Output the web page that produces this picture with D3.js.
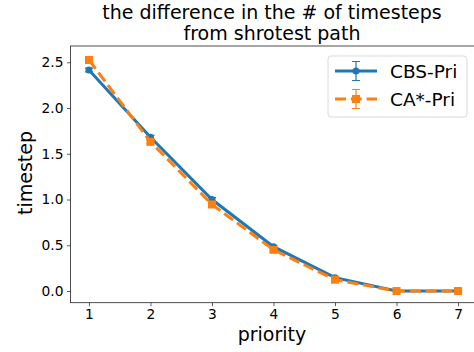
<!DOCTYPE html>
<html>
<head>
<meta charset="utf-8">
<script src="https://cdn.jsdelivr.net/npm/d3@7"></script>
<style>
  body { margin: 0; background: #fff; }
  text { font-family: "DejaVu Sans", sans-serif; fill: #000; }
</style>
</head>
<body>
<div id="chart"></div>
<script>
// chart values
var priorities = [1, 2, 3, 4, 5, 6, 7];
var cbsValues = [2.415, 1.68, 1.00, 0.485, 0.146, 0.0, 0.0];
var cbsErrors = [0.02, 0.02, 0.02, 0.015, 0.01, 0.0, 0.0];
var caValues = [2.525, 1.63, 0.946, 0.45, 0.124, 0.0, 0.0];
var caErrors = [0.025, 0.02, 0.03, 0.02, 0.015, 0.0, 0.0];
var yTicks = [0.0, 0.5, 1.0, 1.5, 2.0, 2.5];
var seriesNames = ["CBS-Pri", "CA*-Pri"];

var width = 474;
var height = 352;
var plot = { left: 70.5, right: 476.5, top: 46, bottom: 302.7 };

var svg = d3.select("#chart")
    .append("svg")
    .attr("width", width)
    .attr("height", height)

/*
    matplotlib style scales: 5% margin around data extent
*/
var x = d3.scaleLinear()
    .domain([0.7, 7.3])
    .range([plot.left, plot.right])

var lo = d3.min(cbsValues.map(function (v, i) { return v - cbsErrors[i] }).concat(caValues.map(function (v, i) { return v - caErrors[i] })))
var hi = d3.max(cbsValues.map(function (v, i) { return v + cbsErrors[i] }).concat(caValues.map(function (v, i) { return v + caErrors[i] })))
var pad = (hi - lo) * 0.05
var y = d3.scaleLinear()
    .domain([lo - pad, hi + pad])
    .range([plot.bottom, plot.top])

// axes
var xAxis = svg.append("g")
    .attr("transform", "translate(0," + plot.bottom + ")")
    .call(d3.axisBottom(x).tickValues(priorities).tickFormat(d3.format("d")).tickSizeOuter(0).tickSize(3.5).tickPadding(3.5))
var yAxis = svg.append("g")
    .attr("transform", "translate(" + plot.left + ",0)")
    .call(d3.axisLeft(y).tickValues(yTicks).tickFormat(d3.format(".1f")).tickSizeOuter(0).tickSize(3.5).tickPadding(3.5))

svg.selectAll(".domain").remove()
svg.selectAll(".tick line").attr("stroke", "#333").attr("stroke-width", 0.8)
svg.selectAll(".tick text").style("font-size", "13.8px").attr("fill", "#000")

// spines
svg.append("rect")
    .attr("x", plot.left)
    .attr("y", plot.top)
    .attr("width", plot.right - plot.left)
    .attr("height", plot.bottom - plot.top)
    .attr("fill", "none")
    .attr("stroke", "#222")
    .attr("stroke-width", 0.8)

// title and labels
svg.append("text")
    .attr("x", 272)
    .attr("y", 18.5)
    .attr("text-anchor", "middle")
    .style("font-size", "19px")
    .text("the difference in the # of timesteps")
svg.append("text")
    .attr("x", 272)
    .attr("y", 40)
    .attr("text-anchor", "middle")
    .style("font-size", "19px")
    .text("from shrotest path")
svg.append("text")
    .attr("x", 272)
    .attr("y", 341)
    .attr("text-anchor", "middle")
    .style("font-size", "19px")
    .text("priority")
svg.append("text")
    .attr("transform", "translate(32,173) rotate(-90)")
    .attr("text-anchor", "middle")
    .style("font-size", "19px")
    .text("timestep")

var series = [
    { name: seriesNames[0], values: cbsValues, errors: cbsErrors, color: "#1f77b4", dash: null, marker: "circle" },
    { name: seriesNames[1], values: caValues, errors: caErrors, color: "#ff7f0e", dash: "11,4.8", marker: "square" }
]

var line = d3.line()
    .x(function (d) { return x(d.p) })
    .y(function (d) { return y(d.v) })

series.forEach(function (s) {
    var pts = priorities.map(function (p, i) { return { p: p, v: s.values[i], e: s.errors[i] } })
    var g = svg.append("g")

    // error bars
    g.selectAll(".err")
        .data(pts)
        .enter().append("path")
        .attr("d", function (d) {
            var cx = x(d.p), y1 = y(d.v - d.e), y2 = y(d.v + d.e)
            return "M" + cx + "," + y1 + "V" + y2 +
                "M" + (cx - 4) + "," + y1 + "H" + (cx + 4) +
                "M" + (cx - 4) + "," + y2 + "H" + (cx + 4)
        })
        .attr("stroke", s.color)
        .attr("stroke-width", 1.2)
        .attr("fill", "none")

    g.append("path")
        .datum(pts)
        .attr("d", line)
        .attr("fill", "none")
        .attr("stroke", s.color)
        .attr("stroke-width", 3)
        .attr("stroke-dasharray", s.dash)

    if (s.marker == "circle") {
        g.selectAll(".mk")
            .data(pts)
            .enter().append("circle")
            .attr("cx", function (d) { return x(d.p) })
            .attr("cy", function (d) { return y(d.v) })
            .attr("r", 3.5)
            .attr("fill", s.color)
    } else {
        g.selectAll(".mk")
            .data(pts)
            .enter().append("rect")
            .attr("x", function (d) { return x(d.p) - 4 })
            .attr("y", function (d) { return y(d.v) - 4 })
            .attr("width", 8)
            .attr("height", 8)
            .attr("fill", s.color)
    }
})

/*
    Legend, upper right
*/
var legend = svg.append("g")
legend.append("rect")
    .attr("x", 328)
    .attr("y", 56)
    .attr("width", 139)
    .attr("height", 61)
    .attr("rx", 3)
    .attr("fill", "#fff")
    .attr("fill-opacity", 0.8)
    .attr("stroke", "#d0d0d0")
    .attr("stroke-width", 0.8)

series.forEach(function (s, i) {
    var ly = 71 + i * 28
    var item = legend.append("g")
    item.append("path")
        .attr("d", "M356," + (ly - 9.5) + "V" + (ly + 9.5) +
            "M352," + (ly - 9.5) + "H360M352," + (ly + 9.5) + "H360")
        .attr("stroke", s.color)
        .attr("stroke-width", 1.2)
        .attr("fill", "none")
    item.append("line")
        .attr("x1", 335)
        .attr("x2", 377)
        .attr("y1", ly)
        .attr("y2", ly)
        .attr("stroke", s.color)
        .attr("stroke-width", 3)
        .attr("stroke-dasharray", s.dash)
    if (s.marker == "circle") {
        item.append("circle").attr("cx", 356).attr("cy", ly).attr("r", 3.5).attr("fill", s.color)
    } else {
        item.append("rect").attr("x", 352).attr("y", ly - 4).attr("width", 8).attr("height", 8).attr("fill", s.color)
    }
    item.append("text")
        .attr("x", 390)
        .attr("y", ly + 6.5)
        .style("font-size", "18.5px")
        .text(s.name)
})
</script>
</body>
</html>
